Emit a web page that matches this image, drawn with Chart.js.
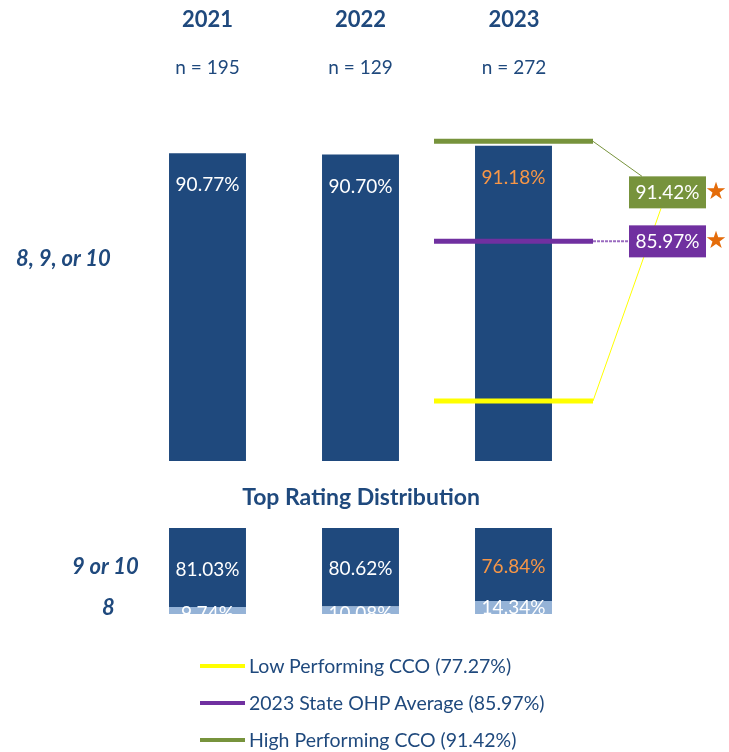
<!DOCTYPE html>
<html>
<head>
<meta charset="utf-8">
<script src="https://cdn.jsdelivr.net/npm/chart.js@4.4.1/dist/chart.umd.min.js"></script>
<style>
  html, body { margin: 0; padding: 0; background: #fff; }
  #wrap { position: relative; width: 729px; height: 752px; overflow: hidden; font-family: Lato, "Liberation Sans", sans-serif; color: #1F497D; }
  canvas { position: absolute; left: 0; top: 0; }
  .t { position: absolute; white-space: nowrap; }
  .yr { font-weight: 700; font-size: 22px; line-height: 24px; width: 120px; text-align: center; }
  .n { font-size: 19px; line-height: 22px; width: 120px; text-align: center; }
  .side { font-weight: 700; font-style: italic; font-size: 22px; line-height: 24px; }
  .title { font-weight: 700; font-size: 23px; line-height: 26px; width: 400px; text-align: center; }
  .leg { font-size: 19.5px; line-height: 22px; }
  .sw { position: absolute; width: 45px; height: 4px; }
</style>
</head>
<body>
<div id="wrap">
  <canvas id="main" width="729" height="752"></canvas>
  <canvas id="dist" width="729" height="752"></canvas>
  <div id="texts"></div>
</div>
<script>
// ---- data ----
const years = ['2021', '2022', '2023'];
const sampleSizes = [195, 129, 272];
const topBoxRates = [90.77, 90.70, 91.18];
const rating9or10 = [81.03, 80.62, 76.84];
const rating8 = [9.74, 10.08, 14.34];
const refNames = ['Low Performing CCO', '2023 State OHP Average', 'High Performing CCO'];
const refValues = [77.27, 85.97, 91.42];
const mainRowLabel = '8, 9, or 10';
const distTitle = 'Top Rating Distribution';
const distRowLabels = ['9 or 10', '8'];

// ---- styles ----
const DARK = '#1F497D';
const LIGHT = '#95B3D7';
const ORANGE = '#F79646';
const STAR = '#E46C0A';
const refColors = ['#FFFF00', '#7030A0', '#77933C'];
const FONT = 'Lato, "Liberation Sans", sans-serif';
const fmt = v => v.toFixed(2) + '%';

// ---- HTML text ----
const texts = document.getElementById('texts');
function addText(cls, txt, left, top) {
  const d = document.createElement('div');
  d.className = 't ' + cls;
  d.textContent = txt;
  d.style.left = left + 'px';
  d.style.top = top + 'px';
  texts.appendChild(d);
  return d;
}
const colCenters = [207.5, 360.5, 514];
years.forEach((y, i) => {
  addText('yr', y, colCenters[i] - 60, 7);
  addText('n', 'n = ' + sampleSizes[i], colCenters[i] - 60, 56);
});
addText('side', mainRowLabel, 16, 246);
addText('title', distTitle, 361 - 200, 483);
addText('side', distRowLabels[0], 72, 554);
addText('side', distRowLabels[1], 102, 595);
refNames.forEach((nm, i) => {
  const yc = 666 + i * 37;
  const sw = document.createElement('div');
  sw.className = 'sw';
  sw.style.left = '200px';
  sw.style.top = (yc - 2) + 'px';
  sw.style.background = refColors[i];
  texts.appendChild(sw);
  addText('leg', nm + ' (' + fmt(refValues[i]) + ')', 249, yc - 11);
});

// ---- main chart ----
const mainPlugin = {
  id: 'mainDeco',
  afterDatasetsDraw(chart) {
    const ctx = chart.ctx;
    const xs = chart.scales.x, ys = chart.scales.y;
    const meta = chart.getDatasetMeta(0);
    ctx.save();
    ctx.font = '19px ' + FONT;
    ctx.textAlign = 'center';
    ctx.textBaseline = 'middle';
    meta.data.forEach((el, i) => {
      ctx.fillStyle = i === years.length - 1 ? ORANGE : '#FFFFFF';
      ctx.fillText(fmt(topBoxRates[i]), el.x, el.y + 32);
    });
    // reference lines across the last category
    const last = years.length - 1;
    const cx = xs.getPixelForValue(last);
    const half = (xs.getPixelForValue(1) - xs.getPixelForValue(0)) / 2 + 3;
    const x0 = cx - half, x1 = cx + half;
    const yPix = refValues.map(v => ys.getPixelForValue(v));
    ctx.lineCap = 'butt';
    refValues.forEach((v, i) => {
      ctx.strokeStyle = refColors[i];
      ctx.lineWidth = 5;
      ctx.beginPath();
      ctx.moveTo(x0, yPix[i]);
      ctx.lineTo(x1, yPix[i]);
      ctx.stroke();
    });
    // boxes
    const boxL = x1 + 36, boxW = 77, boxH = 32;
    const purpleC = yPix[1];
    const greenC = purpleC - 49;
    // connectors
    ctx.lineWidth = 1;
    ctx.strokeStyle = refColors[2];
    ctx.beginPath(); ctx.moveTo(x1, yPix[2]); ctx.lineTo(boxL + 13, greenC - boxH / 2); ctx.stroke();
    ctx.strokeStyle = refColors[0];
    ctx.beginPath(); ctx.moveTo(x1, yPix[0]); ctx.lineTo(boxL + 32, greenC + boxH / 2); ctx.stroke();
    ctx.strokeStyle = '#9A6BC0';
    ctx.lineWidth = 2;
    ctx.setLineDash([3, 1]);
    ctx.beginPath(); ctx.moveTo(x1, purpleC); ctx.lineTo(boxL, purpleC); ctx.stroke();
    ctx.setLineDash([]);
    [[2, greenC], [1, purpleC]].forEach(([ri, c]) => {
      ctx.fillStyle = refColors[ri];
      ctx.fillRect(boxL, c - boxH / 2, boxW, boxH);
      ctx.fillStyle = '#FFFFFF';
      ctx.font = '19px ' + FONT;
      ctx.fillText(fmt(refValues[ri]), boxL + boxW / 2, c + 1);
      ctx.fillStyle = STAR;
      ctx.font = '24px "DejaVu Sans", sans-serif';
      ctx.fillText('\u2605', boxL + boxW + 10, c);
    });
    ctx.restore();
  }
};

new Chart(document.getElementById('main'), {
  type: 'bar',
  data: {
    labels: years,
    datasets: [{
      data: topBoxRates,
      backgroundColor: DARK,
      borderWidth: 0,
      categoryPercentage: 1,
      barPercentage: 0.503
    }]
  },
  options: {
    responsive: false,
    animation: false,
    events: [],
    layout: { padding: { left: 131, right: 139, top: 94, bottom: 291 } },
    scales: {
      x: { display: false },
      y: { display: false, min: 74, max: 94 }
    },
    plugins: { legend: { display: false }, tooltip: { enabled: false } }
  },
  plugins: [mainPlugin]
});

// ---- distribution chart ----
const distPlugin = {
  id: 'distLabels',
  afterDatasetsDraw(chart) {
    const ctx = chart.ctx;
    const a = chart.chartArea;
    ctx.save();
    ctx.beginPath();
    ctx.rect(a.left, a.top, a.right - a.left, a.bottom - a.top);
    ctx.clip();
    ctx.font = '19px ' + FONT;
    ctx.textAlign = 'center';
    ctx.textBaseline = 'middle';
    const m8 = chart.getDatasetMeta(0);
    const m910 = chart.getDatasetMeta(1);
    m910.data.forEach((el, i) => {
      const top = Math.max(el.y, a.top), bot = Math.min(el.base, a.bottom);
      ctx.fillStyle = i === years.length - 1 ? ORANGE : '#FFFFFF';
      ctx.fillText(fmt(rating9or10[i]), el.x, (top + bot) / 2 + 2);
    });
    m8.data.forEach((el, i) => {
      ctx.fillStyle = '#FFFFFF';
      ctx.fillText(fmt(rating8[i]), el.x, el.y + 7);
    });
    ctx.restore();
  }
};

new Chart(document.getElementById('dist'), {
  type: 'bar',
  data: {
    labels: years,
    datasets: [
      { label: '8', data: rating8, backgroundColor: LIGHT, borderWidth: 0, categoryPercentage: 1, barPercentage: 0.503 },
      { label: '9 or 10', data: rating9or10, backgroundColor: DARK, borderWidth: 0, categoryPercentage: 1, barPercentage: 0.503 }
    ]
  },
  options: {
    responsive: false,
    animation: false,
    events: [],
    layout: { padding: { left: 131, right: 139, top: 528, bottom: 138 } },
    scales: {
      x: { display: false, stacked: true },
      y: { display: false, stacked: true, min: 4.4, max: 70.3 }
    },
    plugins: { legend: { display: false }, tooltip: { enabled: false } }
  },
  plugins: [distPlugin]
});
</script>
</body>
</html>
